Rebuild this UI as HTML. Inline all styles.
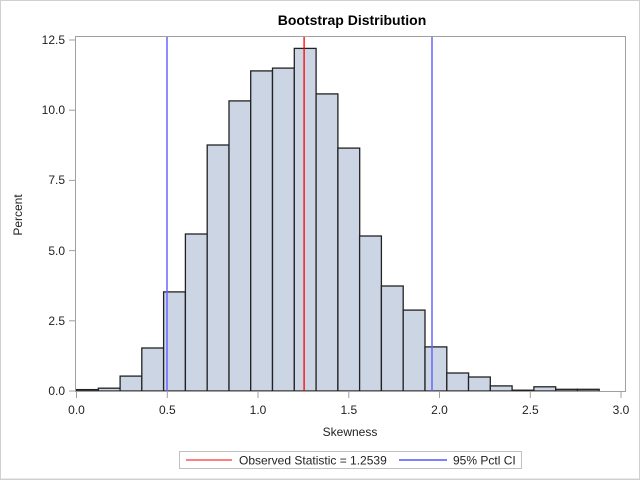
<!DOCTYPE html>
<html><head><meta charset="utf-8"><style>body{margin:0;background:#fff}svg{display:block}</style></head><body>
<svg width="640" height="480" xmlns="http://www.w3.org/2000/svg" font-family="Liberation Sans, Arial, sans-serif">
<rect x="0.5" y="0.5" width="639" height="479" fill="#fff" stroke="#d0d0d0"/>
<text x="352" y="25" text-anchor="middle" font-size="14" font-weight="bold">Bootstrap Distribution</text>
<g id="bars" fill="#cbd5e4" stroke="#222" stroke-width="1.3"></g>
<line x1="304.1" y1="37" x2="304.1" y2="391" stroke="#f00" stroke-width="1.3"/>
<line x1="167" y1="37" x2="167" y2="391" stroke="#66f" stroke-width="1.5"/>
<line x1="432" y1="37" x2="432" y2="391" stroke="#66f" stroke-width="1.5"/>
<rect x="75.5" y="36.5" width="550" height="355" fill="none" stroke="#a0a0a0"/>
<g stroke="#a0a0a0">
<line x1="69" y1="40" x2="75" y2="40"/><line x1="69" y1="110.2" x2="75" y2="110.2"/><line x1="69" y1="180.4" x2="75" y2="180.4"/><line x1="69" y1="250.6" x2="75" y2="250.6"/><line x1="69" y1="320.8" x2="75" y2="320.8"/><line x1="69" y1="391" x2="75" y2="391"/>
<line x1="76.5" y1="392" x2="76.5" y2="398"/><line x1="167.3" y1="392" x2="167.3" y2="398"/><line x1="258" y1="392" x2="258" y2="398"/><line x1="348.8" y1="392" x2="348.8" y2="398"/><line x1="439.5" y1="392" x2="439.5" y2="398"/><line x1="530.3" y1="392" x2="530.3" y2="398"/><line x1="621" y1="392" x2="621" y2="398"/>
</g>
<g font-size="12" fill="#222" text-anchor="end">
<text x="65" y="44">12.5</text><text x="65" y="114">10.0</text><text x="65" y="184">7.5</text><text x="65" y="255">5.0</text><text x="65" y="325">2.5</text><text x="65" y="395">0.0</text>
</g>
<g font-size="12" fill="#222" text-anchor="middle">
<text x="76.5" y="414">0.0</text><text x="167.3" y="414">0.5</text><text x="258" y="414">1.0</text><text x="348.8" y="414">1.5</text><text x="439.5" y="414">2.0</text><text x="530.3" y="414">2.5</text><text x="621" y="414">3.0</text>
</g>
<text x="350" y="436" text-anchor="middle" font-size="12" fill="#222">Skewness</text>
<text transform="translate(22,215) rotate(-90)" text-anchor="middle" font-size="12" fill="#222">Percent</text>
<rect x="179.5" y="451.5" width="342" height="17" fill="#fff" stroke="#c0c0c0"/>
<line x1="186" y1="460" x2="232" y2="460" stroke="#f00"/>
<text x="239" y="464.5" font-size="12" fill="#222">Observed Statistic = 1.2539</text>
<line x1="399" y1="460" x2="447" y2="460" stroke="#00f"/>
<text x="453" y="464.5" font-size="12" fill="#222">95% Pctl CI</text>
<line x1="0" y1="479" x2="640" y2="479" stroke="#d0d0d0"/>
</svg>
<script>
var h=[0.05,0.1,0.53,1.53,3.53,5.59,8.76,10.33,11.4,11.5,12.2,10.58,8.65,5.52,3.74,2.88,1.57,0.64,0.5,0.18,0.03,0.15,0.06,0.06];
var g=document.getElementById('bars'),s='';
for(var i=0;i<h.length;i++){var x=76.5+i*0.12*181.5,w=0.12*181.5,y=391-h[i]*28.08;
s+='<rect x="'+x.toFixed(1)+'" y="'+y.toFixed(1)+'" width="'+w.toFixed(1)+'" height="'+(391-y).toFixed(1)+'"/>';}
g.innerHTML=s;
</script>
</body></html>
